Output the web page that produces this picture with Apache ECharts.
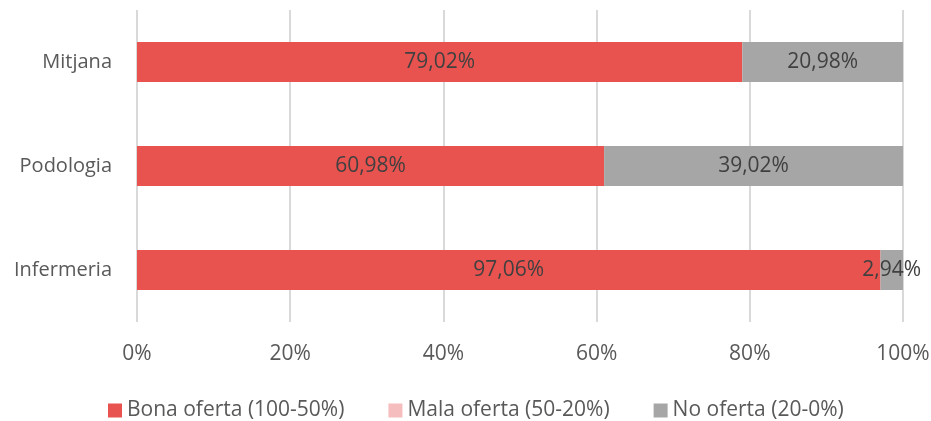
<!DOCTYPE html>
<html><head><meta charset="utf-8">
<script src="https://cdn.jsdelivr.net/npm/echarts@6/dist/echarts.min.js"></script>
<style>html,body{margin:0;padding:0;background:#fff}#c{width:931px;height:421px}</style>
</head><body><div id="c"></div>
<script>
const categories = ['Infermeria', 'Podologia', 'Mitjana'];
const bona = [97.06, 60.98, 79.02];
const mala = [0, 0, 0];
const noOferta = [2.94, 39.02, 20.98];
const xTicks = [0, 20, 40, 60, 80, 100];
const seriesNames = ['Bona oferta (100-50%)', 'Mala oferta (50-20%)', 'No oferta (20-0%)'];

const fmt = p => p.value > 0 ? p.value.toFixed(2).replace('.', ',') + '%' : '';
const font = '"Open Sans", "Noto Sans", sans-serif';
const lbl = {show: true, position: 'inside', formatter: fmt, color: '#404040', fontSize: 21, fontFamily: font};

const chart = echarts.init(document.getElementById('c'));
chart.setOption({
  animation: false,
  grid: {left: 137, right: 28, top: 10, bottom: 99, outerBoundsMode: 'none', containLabel: false},
  legend: {
    top: 395, left: 103, itemWidth: 14, itemHeight: 14, itemGap: 44,
    icon: 'rect',
    textStyle: {color: '#595959', fontSize: 21, fontFamily: font},
    data: seriesNames
  },
  xAxis: {
    type: 'value', min: xTicks[0], max: xTicks[xTicks.length - 1], interval: 20,
    axisLabel: {formatter: v => v + '%', color: '#595959', fontSize: 21, fontFamily: font, margin: 22},
    splitLine: {lineStyle: {color: '#d9d9d9', width: 2}},
    axisLine: {show: false}, axisTick: {show: false}
  },
  yAxis: {
    type: 'category', data: categories,
    axisLabel: {color: '#595959', fontSize: 20, fontFamily: font, margin: 25},
    axisLine: {show: false}, axisTick: {show: false}
  },
  series: [
    {name: seriesNames[0], type: 'bar', stack: 's', data: bona, barWidth: 40, itemStyle: {color: '#E9534F'}, label: lbl},
    {name: seriesNames[1], type: 'bar', stack: 's', data: mala, barWidth: 40, itemStyle: {color: '#F5BDBD'}, label: lbl},
    {name: seriesNames[2], type: 'bar', stack: 's', data: noOferta, barWidth: 40, itemStyle: {color: '#A6A6A6'}, label: lbl}
  ]
});
</script></body></html>
